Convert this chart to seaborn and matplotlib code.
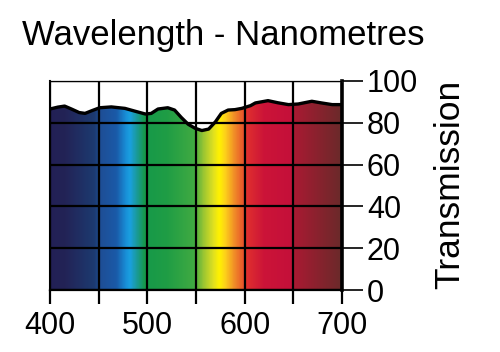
import numpy as np
import matplotlib
matplotlib.use("Agg")
import matplotlib.pyplot as plt
import seaborn as sns
from matplotlib.colors import LinearSegmentedColormap

# ---- data ----
wavelength = [400, 408, 415, 422, 430, 436, 443, 451, 463, 477, 487, 498, 504, 511,
              521, 528, 535, 542, 549, 556, 563, 570, 576, 583, 590, 597, 606, 611,
              624, 634, 645, 655, 669, 679, 690, 700]
transmission = [86.6, 87.5, 88.0, 86.6, 84.9, 84.5, 85.8, 87.2, 87.6, 86.9, 85.6, 84.2,
                84.5, 86.6, 87.2, 86.1, 82.5, 79.3, 77.4, 76.3, 77.0, 80.5, 84.5, 86.1,
                86.3, 86.9, 88.2, 89.5, 90.6, 89.6, 88.7, 89.0, 90.3, 89.5, 88.7, 88.7]
x_ticks = [400, 450, 500, 550, 600, 650, 700]
x_labels = ["400", "", "500", "", "600", "", "700"]
y_ticks = [0, 20, 40, 60, 80, 100]
title = "Wavelength - Nanometres"
ylabel = "Transmission"

# spectrum colour stops (nm, colour)
stop_nm = [400, 415, 445, 452, 468, 478, 482, 489, 497, 520, 548, 558, 568, 574,
           580, 590, 598, 602, 620, 648, 652, 700]
stop_col = ["#222055", "#232356", "#1c3a70", "#1e4e96", "#1a5aa8", "#1890d8",
            "#1aa0e0", "#1a9a9a", "#16994a", "#1f9d45", "#40aa42", "#9cc632",
            "#e0e020", "#fff200", "#fdd21a", "#f08a28", "#e85a2a", "#e0302e",
            "#cc1438", "#c4103a", "#a81a32", "#6a2a2a"]

sns.set_style("white")
plt.rcParams["font.family"] = ["Liberation Sans", "DejaVu Sans"]

fig = plt.figure(figsize=(5, 3.52), dpi=100)
ax = fig.add_axes([50 / 500, 1 - 290 / 352, 292 / 500, 209 / 352])

lo, hi = stop_nm[0], stop_nm[-1]
cmap = LinearSegmentedColormap.from_list(
    "spec", [((n - lo) / (hi - lo), c) for n, c in zip(stop_nm, stop_col)], N=512)
grad = np.linspace(0, 1, 600)[None, :]
im = ax.imshow(grad, cmap=cmap, extent=[lo, hi, 0, 100], aspect="auto",
               origin="lower", zorder=0, interpolation="bilinear")
poly = ax.fill_between(wavelength, transmission, 0, facecolor="none",
                       edgecolor="none")
im.set_clip_path(poly.get_paths()[0], transform=ax.transData)

sns.lineplot(x=wavelength, y=transmission, ax=ax, color="black", lw=2.4,
             zorder=3)

ax.set_xlim(400, 700)
ax.set_ylim(0, 100)
ax.set_xticks(x_ticks)
ax.set_xticklabels(x_labels)
ax.set_yticks(y_ticks)
ax.set_yticklabels([str(v) for v in y_ticks])
ax.yaxis.tick_right()
ax.set_axisbelow(False)
ax.grid(True, color="black", lw=1.6)

ax.tick_params(axis="x", direction="out", length=10, width=1.6, pad=5,
               labelsize=22, colors="black", bottom=True)
ax.tick_params(axis="y", direction="out", length=15, width=1.2, pad=3,
               labelsize=22, colors="black", right=True, left=False)

for side, lw, col in [("left", 1.5, "black"), ("bottom", 1.6, "black"),
                      ("right", 2.6, "black"), ("top", 1.0, "#555555")]:
    ax.spines[side].set_visible(True)
    ax.spines[side].set_linewidth(lw)
    ax.spines[side].set_color(col)

ax.set_xlabel("")
ax.set_ylabel("")

fig.text(22 / 500, 1 - 35 / 352, title, ha="left", va="center", fontsize=25,
         color="black")
fig.text(450 / 500, 1 - 184 / 352, ylabel, rotation=90, ha="center",
         va="center", fontsize=25.5, color="black")

fig.savefig("out.png", dpi=100, facecolor="white")
